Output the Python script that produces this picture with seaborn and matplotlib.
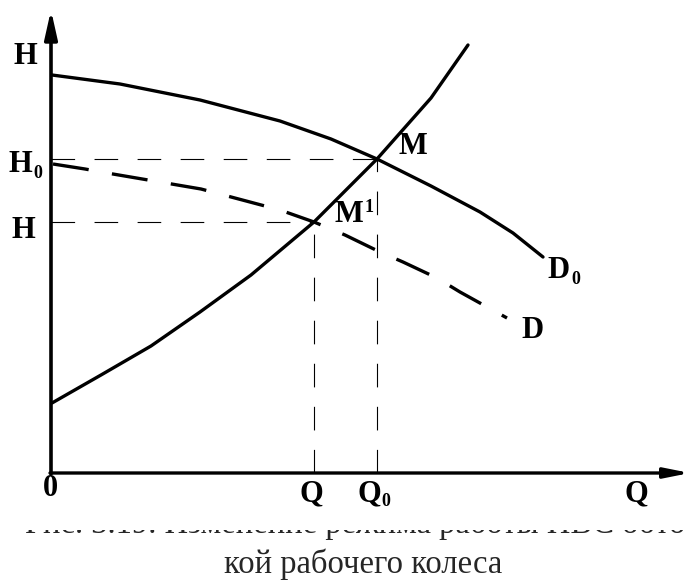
import matplotlib
matplotlib.use("Agg")
import matplotlib.pyplot as plt
from matplotlib.transforms import Bbox, TransformedBbox
import seaborn as sns
import pandas as pd

# pump curve D0 (Q, H)
d0_q = [1, 69, 149, 229, 280, 326, 380, 429, 462, 492]
d0_h = [398, 389, 373, 352, 334, 314, 287, 261, 240, 216]

# pump curve D after impeller trimming (dashed)
d_q = [2, 34, 56, 150, 229, 263, 294, 329, 352, 386, 409, 456]
d_h = [309, 304, 300, 284, 263, 251, 238, 221, 211, 195, 181, 155]

# system curve
sys_q = [1, 50, 100, 149, 200, 263, 326, 380, 417]
sys_h = [70, 98, 127, 161, 198, 251, 314, 375, 428]

# operating points M and M1
m_q, m_h = 326, 314
m1_q, m1_h = 263, 251

sns.set_style("white")
plt.rcParams["lines.scale_dashes"] = False
serif = ["Liberation Serif", "DejaVu Serif"]

fig = plt.figure(figsize=(6.91, 5.81), dpi=100)
ax = fig.add_axes([0, 0, 1, 1])
ax.set_xlim(-51, 640)
ax.set_ylim(-108, 473)
ax.axis("off")

df0 = pd.DataFrame({"Q": d0_q, "H": d0_h})
df1 = pd.DataFrame({"Q": d_q, "H": d_h})
dfs = pd.DataFrame({"Q": sys_q, "H": sys_h})

sns.lineplot(data=df0, x="Q", y="H", ax=ax, color="black", lw=2.4,
             sort=False, estimator=None)
sns.lineplot(data=dfs, x="Q", y="H", ax=ax, color="black", lw=2.4,
             sort=False, estimator=None)
sns.lineplot(data=df1, x="Q", y="H", ax=ax, color="black", lw=2.4,
             sort=False, estimator=None, linestyle=(0, (26, 17)))

# thin dashed guides
guide = dict(color="black", lw=0.8, linestyle=(0, (17, 14)))
ax.plot([0, m_q], [m_h, m_h], **guide)
ax.plot([m_q, m_q], [0, m_h], **guide)
ax.plot([0, m1_q], [m1_h, m1_h], **guide)
ax.plot([m1_q, m1_q], [0, m1_h], **guide)

# axes with arrows
ax.annotate("", xy=(0, 463), xytext=(0, -1),
            arrowprops=dict(arrowstyle="-|>,head_length=1.7,head_width=0.38",
                            mutation_scale=10, lw=2.6, color="black",
                            shrinkA=0, shrinkB=0))
ax.annotate("", xy=(639, 0), xytext=(-1, 0),
            arrowprops=dict(arrowstyle="-|>,head_length=1.5,head_width=0.3",
                            mutation_scale=10, lw=2.4, color="black",
                            shrinkA=0, shrinkB=0))

lab = dict(family=serif, fontweight="bold", fontsize=22,
           ha="center", va="center", color="black")
sub = dict(family=serif, fontweight="bold", fontsize=13,
           ha="center", va="center", color="black")

ax.text(-26, 416, "H", **lab)
ax.text(-31, 308, "H", **lab)
ax.text(-13, 300, "0", **sub)
ax.text(-28, 242, "H", **lab)
ax.text(-1, -16, "0", **lab)
ax.text(260, -21, "Q", **lab)
ax.text(318, -21, "Q", **lab)
ax.text(335, -28, "0", **sub)
ax.text(585, -21, "Q", **lab)
ax.text(362, 327, "M", **lab)
ax.text(298, 258, "M", **lab)
ax.text(318, 265, "1", **sub)
ax.text(507, 202, "D", **lab)
ax.text(525, 194, "0", **sub)
ax.text(481, 143, "D", **lab)

# caption (first line cut off at the top, as in the scan)
cap1 = fig.text(25 / 691, (581 - 533) / 581,
                "Рис. 3.19. Изменение режима работы НВС обточ-",
                family=serif, fontsize=23.5, ha="left", va="baseline")
cap1.set_clip_box(TransformedBbox(Bbox([[0, 0], [1, (581 - 530) / 581]]),
                                  fig.transFigure))
cap1.set_clip_on(True)
fig.text(363 / 691, (581 - 573) / 581, "кой рабочего колеса",
         family=serif, fontsize=23.5, ha="center", va="baseline")

fig.savefig("out.png", dpi=100, facecolor="white")
